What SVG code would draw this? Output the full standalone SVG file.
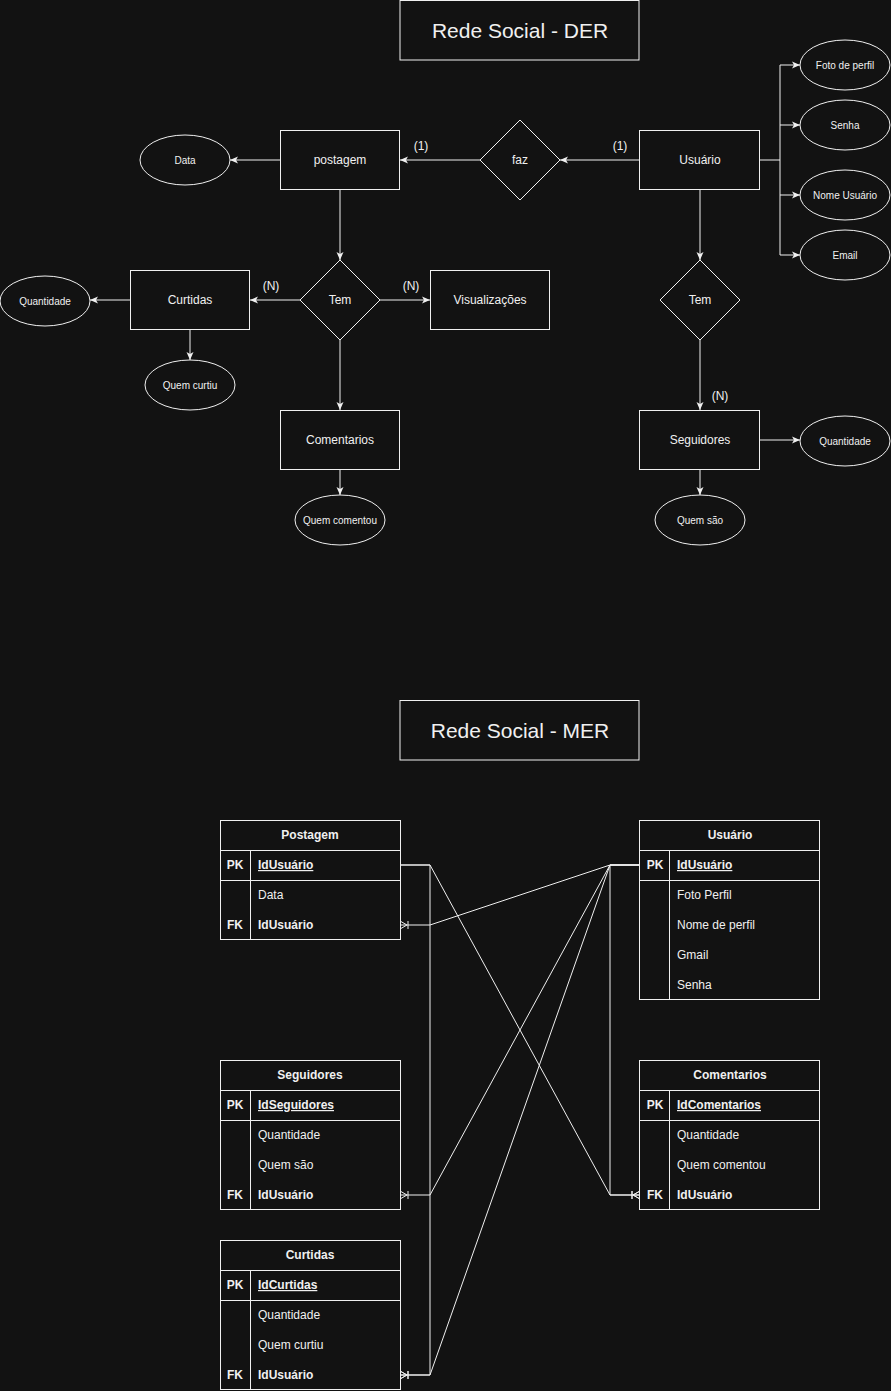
<svg xmlns="http://www.w3.org/2000/svg" width="891" height="1391" viewBox="0 0 891 1391">
<defs>
<style>
text{font-family:"Liberation Sans",Arial,Helvetica,sans-serif;fill:#f0f0f0}
.box{fill:#121212;stroke:#f0f0f0;stroke-width:1}
.t12{font-size:12px;text-anchor:middle}
.t10{font-size:10px;text-anchor:middle}
.title{font-size:21px;text-anchor:middle}
.hdr{font-size:12px;font-weight:bold;text-anchor:middle}
.key{font-size:12px;font-weight:bold;text-anchor:middle}
.fld{font-size:12px}
.b{font-weight:bold}
.u{text-decoration:underline}
.ln{fill:none;stroke:#f0f0f0;stroke-width:1}
.lbl{font-size:12px;text-anchor:middle}
</style>
<marker id="arr" viewBox="-8 -4 9 8" refX="0" refY="0" markerWidth="9" markerHeight="8" markerUnits="userSpaceOnUse" orient="auto">
<path d="M0,0 L-8,-3.5 L-6,0 L-8,3.5 Z" fill="#f0f0f0"/>
</marker>
<marker id="crow" viewBox="-10 -5 11 10" refX="0" refY="0" markerWidth="11" markerHeight="10" markerUnits="userSpaceOnUse" orient="auto">
<path d="M0,-4 L-7,0 L0,4 M-8,-4 L-8,4" fill="none" stroke="#f0f0f0" stroke-width="1"/>
</marker>
</defs>
<rect x="0" y="0" width="891" height="1391" fill="#121212"/>

<g id="connectors">
<!-- DER -->
<path class="ln" d="M280,160 L230,160" marker-end="url(#arr)"/>
<path class="ln" d="M480,160 L400,160" marker-end="url(#arr)"/>
<path class="ln" d="M640,160 L560,160" marker-end="url(#arr)"/>
<path class="ln" d="M760,160 L780,160 M780,65 L780,255"/>
<path class="ln" d="M780,65 L800,65" marker-end="url(#arr)"/>
<path class="ln" d="M780,125 L800,125" marker-end="url(#arr)"/>
<path class="ln" d="M780,195 L800,195" marker-end="url(#arr)"/>
<path class="ln" d="M780,255 L800,255" marker-end="url(#arr)"/>
<path class="ln" d="M700,190 L700,260" marker-end="url(#arr)"/>
<path class="ln" d="M700,340 L700,410" marker-end="url(#arr)"/>
<path class="ln" d="M760,440 L800,440" marker-end="url(#arr)"/>
<path class="ln" d="M700,470 L700,495" marker-end="url(#arr)"/>
<path class="ln" d="M340,190 L340,260" marker-end="url(#arr)"/>
<path class="ln" d="M300,300 L250,300" marker-end="url(#arr)"/>
<path class="ln" d="M380,300 L430,300" marker-end="url(#arr)"/>
<path class="ln" d="M130,300 L90,300" marker-end="url(#arr)"/>
<path class="ln" d="M190,330 L190,360" marker-end="url(#arr)"/>
<path class="ln" d="M340,340 L340,410" marker-end="url(#arr)"/>
<path class="ln" d="M340,470 L340,495" marker-end="url(#arr)"/>
<text class="lbl" x="421" y="150">(1)</text>
<text class="lbl" x="620" y="150">(1)</text>
<text class="lbl" x="271" y="290">(N)</text>
<text class="lbl" x="411" y="290">(N)</text>
<text class="lbl" x="361" y="420">(N)</text>
<text class="lbl" x="720" y="400">(N)</text>
<!-- MER -->
<path class="ln" d="M400,865 L430,865 L610,1195 L640,1195" marker-end="url(#crow)"/>
<path class="ln" d="M400,865 L430,865 L430,1375 L400,1375" marker-end="url(#crow)"/>
<path class="ln" d="M640,865 L610,865 L430,925 L400,925" marker-end="url(#crow)"/>
<path class="ln" d="M640,865 L610,865 L430,1195 L400,1195" marker-end="url(#crow)"/>
<path class="ln" d="M640,865 L610,865 L430,1375 L400,1375" marker-end="url(#crow)"/>
<path class="ln" d="M640,865 L610,865 L610,1195 L640,1195" marker-end="url(#crow)"/>
</g>

<g id="title-der">
<rect class="box" x="400" y="0.5" width="239" height="59.5"/>
<text class="title" x="520" y="38">Rede Social - DER</text>
</g>
<g id="postagem">
<rect class="box" x="280.5" y="130.5" width="119" height="59"/>
<text class="t12" x="340" y="164">postagem</text>
</g>
<g id="data">
<ellipse class="box" cx="185" cy="160" rx="45" ry="25"/>
<text class="t10" x="185" y="164">Data</text>
</g>
<g id="faz">
<path class="box" d="M520,120 L560,160 L520,200 L480,160 Z"/>
<text class="t12" x="520" y="164">faz</text>
</g>
<g id="usuario">
<rect class="box" x="639.5" y="130.5" width="120" height="59"/>
<text class="t12" x="700" y="164">Usuário</text>
</g>
<g id="foto-perfil">
<ellipse class="box" cx="845" cy="65" rx="45" ry="25"/>
<text class="t10" x="845" y="69">Foto de perfil</text>
</g>
<g id="senha">
<ellipse class="box" cx="845" cy="125" rx="45" ry="25"/>
<text class="t10" x="845" y="129">Senha</text>
</g>
<g id="nome-usuario">
<ellipse class="box" cx="845" cy="195" rx="45" ry="25"/>
<text class="t10" x="845" y="199">Nome Usuário</text>
</g>
<g id="email">
<ellipse class="box" cx="845" cy="255" rx="45" ry="25"/>
<text class="t10" x="845" y="259">Email</text>
</g>
<g id="tem-usuario">
<path class="box" d="M700,260 L740,300 L700,340 L660,300 Z"/>
<text class="t12" x="700" y="304">Tem</text>
</g>
<g id="seguidores">
<rect class="box" x="639.5" y="410.5" width="120" height="59"/>
<text class="t12" x="700" y="444">Seguidores</text>
</g>
<g id="quantidade-seg">
<ellipse class="box" cx="845" cy="441" rx="45" ry="25"/>
<text class="t10" x="845" y="445">Quantidade</text>
</g>
<g id="quem-sao">
<ellipse class="box" cx="700" cy="520" rx="45" ry="25"/>
<text class="t10" x="700" y="524">Quem são</text>
</g>
<g id="tem-postagem">
<path class="box" d="M340,260 L380,300 L340,340 L300,300 Z"/>
<text class="t12" x="340" y="304">Tem</text>
</g>
<g id="curtidas">
<rect class="box" x="130.5" y="270.5" width="119" height="59"/>
<text class="t12" x="190" y="304">Curtidas</text>
</g>
<g id="visualizacoes">
<rect class="box" x="430.5" y="270.5" width="119" height="59"/>
<text class="t12" x="490" y="304">Visualizações</text>
</g>
<g id="quantidade-curt">
<ellipse class="box" cx="45" cy="301" rx="45" ry="25"/>
<text class="t10" x="45" y="305">Quantidade</text>
</g>
<g id="quem-curtiu">
<ellipse class="box" cx="190" cy="385" rx="45" ry="25"/>
<text class="t10" x="190" y="389">Quem curtiu</text>
</g>
<g id="comentarios">
<rect class="box" x="280.5" y="410.5" width="119" height="59"/>
<text class="t12" x="340" y="444">Comentarios</text>
</g>
<g id="quem-comentou">
<ellipse class="box" cx="340" cy="520" rx="45" ry="25"/>
<text class="t10" x="340" y="524">Quem comentou</text>
</g>

<g id="title-mer">
<rect class="box" x="400" y="700.5" width="239" height="59.5"/>
<text class="title" x="520" y="738">Rede Social - MER</text>
</g>

<g id="t-postagem">
<rect class="box" x="220.5" y="820.5" width="180" height="119"/>
<path class="ln" d="M220.5,850.5 H400.5 M220.5,880.5 H400.5 M250.5,850.5 V939.5"/>
<text class="hdr" x="310" y="839">Postagem</text>
<text class="key" x="235" y="869">PK</text>
<text class="fld b u" x="258" y="869">IdUsuário</text>
<text class="fld" x="258" y="899">Data</text>
<text class="key" x="235" y="929">FK</text>
<text class="fld b" x="258" y="929">IdUsuário</text>
</g>
<g id="t-usuario">
<rect class="box" x="639.5" y="820.5" width="180" height="179"/>
<path class="ln" d="M639.5,850.5 H819.5 M639.5,880.5 H819.5 M669.5,850.5 V999.5"/>
<text class="hdr" x="730" y="839">Usuário</text>
<text class="key" x="655" y="869">PK</text>
<text class="fld b u" x="677" y="869">IdUsuário</text>
<text class="fld" x="677" y="899">Foto Perfil</text>
<text class="fld" x="677" y="929">Nome de perfil</text>
<text class="fld" x="677" y="959">Gmail</text>
<text class="fld" x="677" y="989">Senha</text>
</g>
<g id="t-seguidores">
<rect class="box" x="220.5" y="1060.5" width="180" height="149"/>
<path class="ln" d="M220.5,1090.5 H400.5 M220.5,1120.5 H400.5 M250.5,1090.5 V1209.5"/>
<text class="hdr" x="310" y="1079">Seguidores</text>
<text class="key" x="235" y="1109">PK</text>
<text class="fld b u" x="258" y="1109">IdSeguidores</text>
<text class="fld" x="258" y="1139">Quantidade</text>
<text class="fld" x="258" y="1169">Quem são</text>
<text class="key" x="235" y="1199">FK</text>
<text class="fld b" x="258" y="1199">IdUsuário</text>
</g>
<g id="t-comentarios">
<rect class="box" x="639.5" y="1060.5" width="180" height="149"/>
<path class="ln" d="M639.5,1090.5 H819.5 M639.5,1120.5 H819.5 M669.5,1090.5 V1209.5"/>
<text class="hdr" x="730" y="1079">Comentarios</text>
<text class="key" x="655" y="1109">PK</text>
<text class="fld b u" x="677" y="1109">IdComentarios</text>
<text class="fld" x="677" y="1139">Quantidade</text>
<text class="fld" x="677" y="1169">Quem comentou</text>
<text class="key" x="655" y="1199">FK</text>
<text class="fld b" x="677" y="1199">IdUsuário</text>
</g>
<g id="t-curtidas">
<rect class="box" x="220.5" y="1240.5" width="180" height="149"/>
<path class="ln" d="M220.5,1270.5 H400.5 M220.5,1300.5 H400.5 M250.5,1270.5 V1389.5"/>
<text class="hdr" x="310" y="1259">Curtidas</text>
<text class="key" x="235" y="1289">PK</text>
<text class="fld b u" x="258" y="1289">IdCurtidas</text>
<text class="fld" x="258" y="1319">Quantidade</text>
<text class="fld" x="258" y="1349">Quem curtiu</text>
<text class="key" x="235" y="1379">FK</text>
<text class="fld b" x="258" y="1379">IdUsuário</text>
</g>
</svg>
